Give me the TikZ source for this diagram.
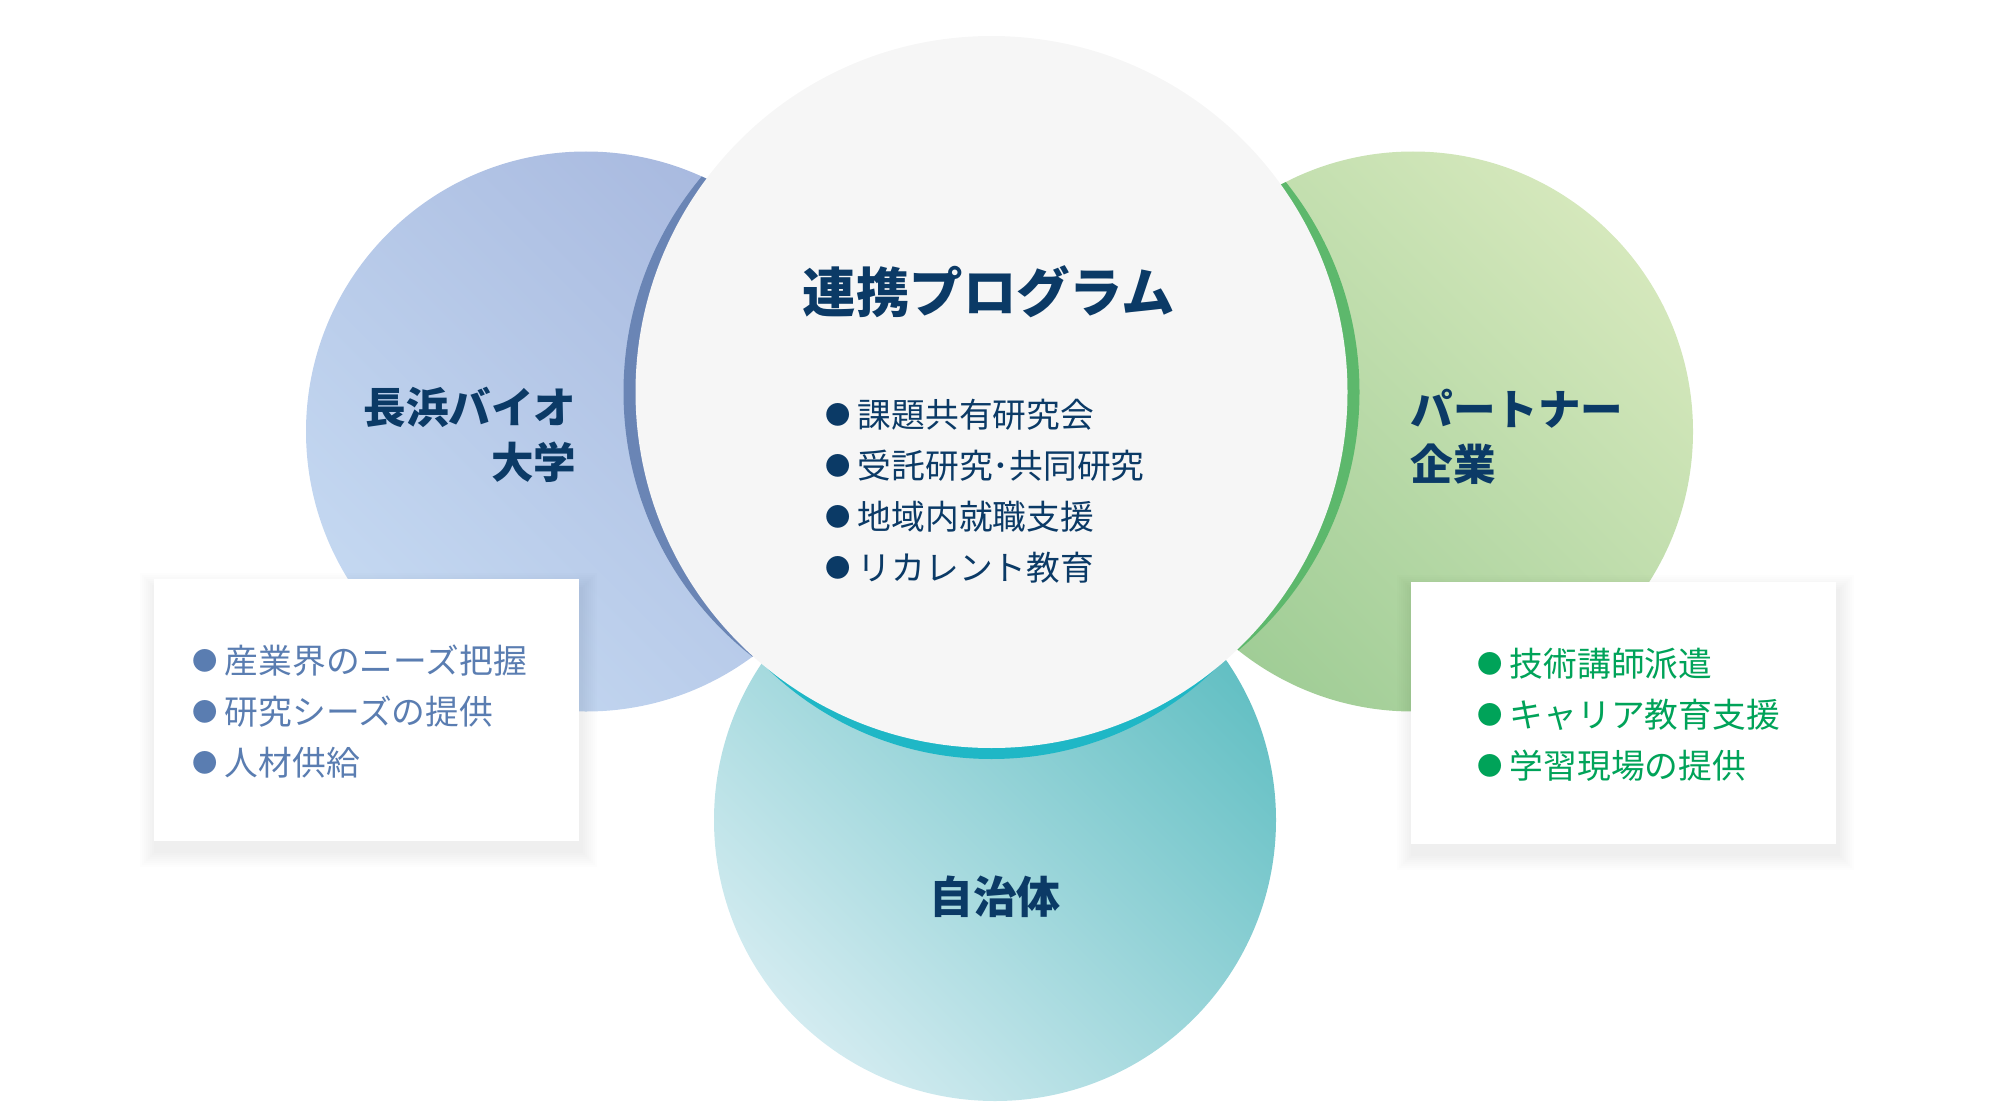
\documentclass[tikz,border=0pt]{standalone}
\usepackage{fontspec}
\setmainfont{Noto Sans CJK JP}
\usepackage{tikz}
\usetikzlibrary{positioning}
\definecolor{navy}{HTML}{0B3A66}
\definecolor{core}{HTML}{F6F6F6}
\definecolor{uniTop}{HTML}{A8B9DF}
\definecolor{uniBot}{HTML}{C4D8F1}
\definecolor{uniRim}{HTML}{6A85B5}
\definecolor{uniText}{HTML}{5A7DB1}
\definecolor{firmTop}{HTML}{D5E8BC}
\definecolor{firmBot}{HTML}{A0CD96}
\definecolor{firmRim}{HTML}{5DB86C}
\definecolor{firmText}{HTML}{00A359}
\definecolor{cityTop}{HTML}{62BFC3}
\definecolor{cityBot}{HTML}{D2EBF0}
\definecolor{cityRim}{HTML}{1FB7C6}
\newcommand{\dotmark}{\raisebox{0.9pt}{\fontsize{7.2pt}{8pt}\selectfont ●}\hspace{2.1pt}}
\tikzstyle{orb} = [circle, minimum size=5.6cm, inner sep=0pt]
\tikzstyle{card} = [rectangle, fill=white, minimum width=4.25cm, minimum height=2.62cm]
\tikzstyle{member} = [font=\bfseries\fontsize{12.1pt}{15.6pt}\selectfont, text=navy, inner sep=0pt]
\tikzstyle{entry} = [anchor=west, inner sep=0pt, font=\fontsize{9.6pt}{12pt}\selectfont]

\begin{document}
\begin{tikzpicture}[node distance=0.51cm]
                        \useasboundingbox (0,0) rectangle (20,11.16);

                        \node (2) [orb, top color=uniTop, bottom color=uniBot, shading angle=-45] at (5.86,6.845) {};
                        \node (3) [orb, top color=firmTop, bottom color=firmBot, shading angle=-45] at (14.13,6.845) {};
                        \node (4) [orb, minimum size=5.62cm, top color=cityTop, bottom color=cityBot, shading angle=-45] at (9.95,2.96) {};

                        % coloured rims behind the centre circle
                        \begin{scope}
                            \clip (2.center) circle (2.8);
                            \fill[uniRim] (9.595,7.24) circle (3.36);
                        \end{scope}
                        \begin{scope}
                            \clip (3.center) circle (2.8);
                            \fill[firmRim] (10.235,7.24) circle (3.36);
                        \end{scope}
                        \begin{scope}
                            \clip (4.center) circle (2.81);
                            \fill[cityRim] (9.915,6.80) circle (3.23);
                        \end{scope}

                        \node (1) [circle, fill=core, minimum size=7.12cm, inner sep=0pt] at (9.915,7.24) {};

                        % soft shadows
                        \foreach \s in {1,...,8} {
                            \fill[black, opacity=0.007] (1.56-\s*0.02,2.65-\s*0.02) rectangle (5.81+\s*0.02,5.27+\s*0.02);
                            \fill[black, opacity=0.007] (14.13-\s*0.02,2.62-\s*0.02) rectangle (18.38+\s*0.02,5.25+\s*0.02);
                        }
                        \node (5) [card] at (3.665,4.06) {};
                        \node (6) [card] at (16.235,4.035) {};

                        \node (1t) [font=\bfseries\fontsize{15.2pt}{18pt}\selectfont, text=navy] at (9.89,8.24) {連携プログラム};
                        \node (1a) [entry, text=navy] at (8.245,7.01) {\dotmark 課題共有研究会};
                        \node (1b) [entry, text=navy, below=of 1a.west, anchor=west] {\dotmark 受託研究･共同研究};
                        \node (1c) [entry, text=navy, below=of 1b.west, anchor=west] {\dotmark 地域内就職支援};
                        \node (1d) [entry, text=navy, below=of 1c.west, anchor=west] {\dotmark リカレント教育};

                        \node (2t) [member, align=right, anchor=east] at (5.77,6.81) {長浜バイオ\\大学};
                        \node (3t) [member, align=left, anchor=west] at (14.10,6.79) {パートナー\\企業};
                        \node (4t) [member, font=\bfseries\fontsize{12.5pt}{15pt}\selectfont] at (9.95,2.19) {自治体};

                        \node (5a) [entry, text=uniText] at (1.915,4.55) {\dotmark 産業界のニーズ把握};
                        \node (5b) [entry, text=uniText, below=of 5a.west, anchor=west] {\dotmark 研究シーズの提供};
                        \node (5c) [entry, text=uniText, below=of 5b.west, anchor=west] {\dotmark 人材供給};

                        \node (6a) [entry, text=firmText] at (14.765,4.52) {\dotmark 技術講師派遣};
                        \node (6b) [entry, text=firmText, below=of 6a.west, anchor=west] {\dotmark キャリア教育支援};
                        \node (6c) [entry, text=firmText, below=of 6b.west, anchor=west] {\dotmark 学習現場の提供};

                    \end{tikzpicture}
\end{document}
